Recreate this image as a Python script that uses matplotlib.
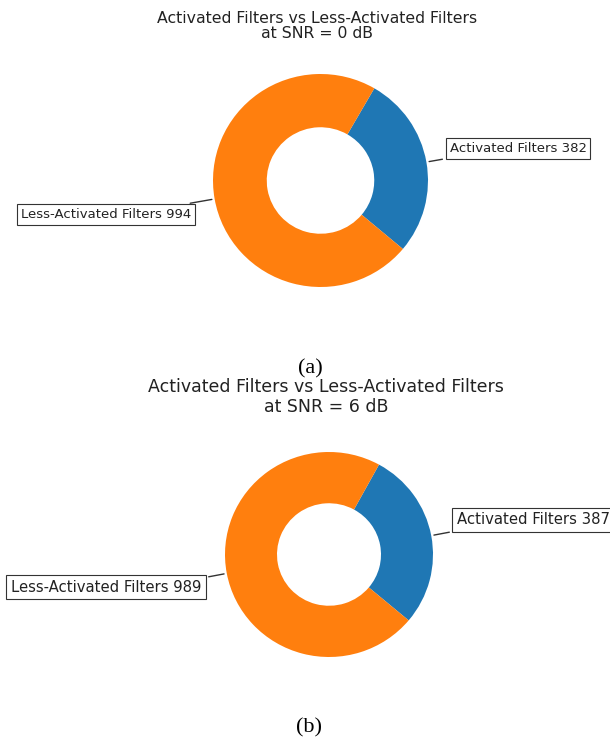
import numpy as np
import matplotlib
matplotlib.use("Agg")
import matplotlib.pyplot as plt

labels = ["Activated Filters", "Less-Activated Filters"]
counts_a = [382, 994]
counts_b = [387, 989]
titles = ["Activated Filters vs Less-Activated Filters\nat SNR = 0 dB",
          "Activated Filters vs Less-Activated Filters\nat SNR = 6 dB"]
captions = ["(a)", "(b)"]

W, H = 610, 747
fig = plt.figure(figsize=(W / 100, H / 100), dpi=100)


def px_axes(left, top, right, bottom):
    return fig.add_axes([left / W, 1 - bottom / H, (right - left) / W, (bottom - top) / H])


def donut(ax, counts, title, title_xy, title_fs, title_ls, lab_fs, offs):
    wedges, _ = ax.pie(counts, wedgeprops=dict(width=0.5), startangle=-40,
                       colors=["#1f77b4", "#ff7f0e"])
    ax.set_aspect("auto")
    ax.set_xlim(-1, 1)
    ax.set_ylim(-1, 1)
    bbox_props = dict(boxstyle="square,pad=0.3", fc="w", ec="#333333", lw=0.8)
    for i, p in enumerate(wedges):
        ang = (p.theta2 - p.theta1) / 2. + p.theta1
        y = np.sin(np.deg2rad(ang))
        x = np.cos(np.deg2rad(ang))
        ha = {-1: "right", 1: "left"}[int(np.sign(x))]
        conn = "angle,angleA=0,angleB={}".format(ang)
        ox, oy = offs[i]
        ax.annotate(f"{labels[i]} {counts[i]}", xy=(x, y), xytext=(ox, oy),
                    ha=ha, va="center", fontsize=lab_fs, color="#222222",
                    bbox=bbox_props, zorder=0, annotation_clip=False,
                    arrowprops=dict(arrowstyle="-", connectionstyle=conn, lw=1.0,
                                    color="#333333"))
    fig.text(title_xy[0] / W, 1 - title_xy[1] / H, title, ha="center", va="center",
             fontsize=title_fs, linespacing=title_ls, color="#222222")


ax1 = px_axes(213, 74, 428, 287)
donut(ax1, counts_a, titles[0], (317, 26), 11.3, 0.96, 9.5, [(1.20, 0.30), (-1.20, -0.32)])

ax2 = px_axes(225, 452, 433, 657)
donut(ax2, counts_b, titles[1], (326, 397), 12.5, 1.1, 10.7, [(1.23, 0.34), (-1.23, -0.32)])

fig.text(310 / W, 1 - 369 / H, captions[0], ha="center", va="center",
         fontsize=16, family="Liberation Serif")
fig.text(309 / W, 1 - 728 / H, captions[1], ha="center", va="center",
         fontsize=16, family="Liberation Serif")

fig.savefig("out.png", dpi=100)
